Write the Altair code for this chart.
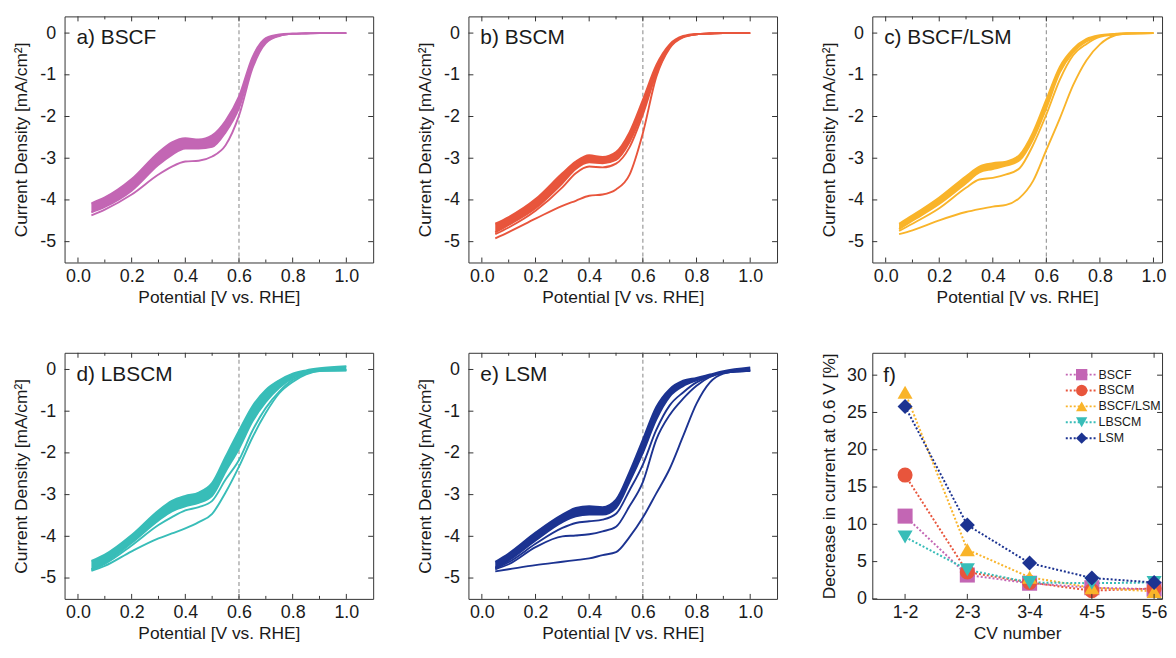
import altair as alt
import pandas as pd

FONT = "Liberation Sans"
FRAME = "#333333"
TXT = "#1a1a1a"

# ---------------- data ----------------
E = [0.05, 0.1, 0.2, 0.3, 0.35, 0.4, 0.45, 0.5, 0.55, 0.6, 0.65, 0.7, 0.75, 0.8, 0.85, 0.9, 1.0]

# a) BSCF
BSCF_TOP    = [-4.08, -3.94, -3.50, -2.86, -2.62, -2.52, -2.55, -2.45, -2.10, -1.52, -0.58, -0.12, -0.03, -0.01, 0.0, 0.0, 0.0]
BSCF_BOTTOM = [-4.30, -4.17, -3.78, -3.16, -2.92, -2.77, -2.77, -2.73, -2.38, -1.80, -0.78, -0.22, -0.06, -0.02, -0.01, 0.0, 0.0]
BSCF_FIRST  = [-4.37, -4.23, -3.87, -3.39, -3.20, -3.08, -3.06, -2.96, -2.69, -1.98, -0.85, -0.24, -0.07, -0.02, -0.01, 0.0, 0.0]

# b) BSCM
BSCM_TOP    = [-4.57, -4.41, -3.98, -3.36, -3.08, -2.93, -2.97, -2.85, -2.38, -1.60, -0.77, -0.27, -0.07, -0.02, -0.01, 0.0, 0.0]
BSCM_BOTTOM = [-4.78, -4.60, -4.20, -3.60, -3.26, -3.10, -3.12, -3.04, -2.62, -1.88, -0.95, -0.32, -0.09, -0.03, -0.01, 0.0, 0.0]
BSCM_SECOND = [-4.82, -4.66, -4.26, -3.70, -3.36, -3.20, -3.22, -3.13, -2.74, -1.95, -0.98, -0.34, -0.09, -0.03, -0.01, 0.0, 0.0]
BSCM_FIRST  = [-4.92, -4.77, -4.45, -4.14, -4.02, -3.90, -3.87, -3.75, -3.40, -2.40, -1.05, -0.36, -0.10, -0.03, -0.01, 0.0, 0.0]

# c) BSCF/LSM
MIX_TOP    = [-4.57, -4.37, -3.94, -3.43, -3.20, -3.12, -3.08, -2.92, -2.38, -1.59, -0.81, -0.38, -0.14, -0.05, -0.02, 0.0, 0.0]
MIX_BOTTOM = [-4.70, -4.50, -4.10, -3.60, -3.34, -3.26, -3.18, -3.05, -2.55, -1.80, -0.95, -0.46, -0.20, -0.07, -0.03, -0.01, 0.0]
MIX_SECOND = [-4.74, -4.57, -4.20, -3.71, -3.51, -3.47, -3.39, -3.24, -2.69, -1.95, -1.12, -0.53, -0.26, -0.09, -0.04, -0.01, 0.0]
MIX_FIRST  = [-4.82, -4.73, -4.49, -4.29, -4.22, -4.16, -4.12, -3.95, -3.55, -2.80, -2.05, -1.25, -0.65, -0.27, -0.07, -0.02, 0.0]

# d) LBSCM
LB_TOP    = [-4.59, -4.44, -3.97, -3.38, -3.15, -3.03, -2.95, -2.72, -2.09, -1.47, -0.88, -0.49, -0.26, -0.10, -0.02, 0.03, 0.08]
LB_BOTTOM = [-4.79, -4.63, -4.16, -3.62, -3.40, -3.28, -3.20, -3.03, -2.45, -1.90, -1.25, -0.78, -0.44, -0.21, -0.09, -0.02, -0.02]
LB_SECOND = [-4.80, -4.66, -4.22, -3.73, -3.54, -3.38, -3.30, -3.15, -2.64, -2.17, -1.47, -0.92, -0.53, -0.25, -0.10, -0.03, -0.02]
LB_FIRST  = [-4.83, -4.71, -4.36, -4.05, -3.93, -3.81, -3.66, -3.46, -2.95, -2.33, -1.63, -1.04, -0.57, -0.30, -0.12, -0.04, -0.02]

# e) LSM
LSM_TOP    = [-4.61, -4.41, -3.91, -3.48, -3.32, -3.28, -3.30, -3.12, -2.46, -1.68, -0.90, -0.47, -0.27, -0.20, -0.12, -0.04, 0.05]
LSM_BOTTOM = [-4.75, -4.58, -4.10, -3.66, -3.52, -3.48, -3.48, -3.32, -2.70, -2.00, -1.20, -0.65, -0.40, -0.26, -0.15, -0.07, -0.03]
LSM_THIRD  = [-4.77, -4.62, -4.18, -3.80, -3.68, -3.64, -3.60, -3.46, -2.90, -2.28, -1.45, -0.86, -0.55, -0.31, -0.17, -0.08, -0.03]
LSM_SECOND = [-4.79, -4.67, -4.26, -4.00, -3.98, -3.95, -3.88, -3.77, -3.28, -2.70, -1.68, -1.09, -0.70, -0.39, -0.18, -0.08, -0.03]
LSM_FIRST  = [-4.84, -4.79, -4.69, -4.61, -4.57, -4.53, -4.45, -4.38, -4.02, -3.55, -2.97, -2.38, -1.60, -0.82, -0.31, -0.10, 0.0]

# f) decrease in current at 0.6 V
CV = ["1-2", "2-3", "3-4", "4-5", "5-6"]
SERIES = ["BSCF", "BSCM", "BSCF/LSM", "LBSCM", "LSM"]
DEC_BSCF = [11.1, 3.2, 2.1, 1.5, 1.3]
DEC_BSCM = [16.6, 3.6, 2.2, 1.1, 1.4]
DEC_MIX = [27.7, 6.6, 2.9, 1.5, 1.0]
DEC_LB = [8.3, 3.9, 2.2, 2.1, 2.2]
DEC_LSM = [25.8, 9.9, 4.8, 2.8, 2.2]

COLORS = ["#C366B4", "#E8553C", "#F9B42A", "#38BDB8", "#1C3391"]
SHAPES = ["square", "circle", "triangle-up", "triangle-down", "diamond"]
LABELS = ["a) BSCF", "b) BSCM", "c) BSCF/LSM", "d) LBSCM", "e) LSM", "f)"]

VLINE = [0.6]
XT_MAJOR = [0.0, 0.2, 0.4, 0.6, 0.8, 1.0]
XT_MINOR = [0.1, 0.3, 0.5, 0.7, 0.9]
YT_MAJOR = [-5, -4, -3, -2, -1, 0]
X_DOMAIN = [-0.05, 1.1]
X_DOMAIN_CUT = [-0.05, 1.032]   # panel c is cut at the right edge of the figure
Y_DOMAIN = [-5.5, 0.4]
F_YT = [0, 5, 10, 15, 20, 25, 30]
F_DOMAIN = [0, 33]

W, H = 311, 248
WC = 292
FW = 292


def inward_ticks(W_, H_, xenc, yenc, xvals, yvals, xlen, ylen):
    layers = []
    dfx = pd.DataFrame({"v": xvals})
    bx = alt.Chart(dfx).mark_rule(color=FRAME, strokeWidth=1)
    layers.append(bx.encode(x=xenc("v"), y=alt.value(H_), y2=alt.value(H_ - xlen)))
    layers.append(bx.encode(x=xenc("v"), y=alt.value(0), y2=alt.value(xlen)))
    dfy = pd.DataFrame({"v": yvals})
    by = alt.Chart(dfy).mark_rule(color=FRAME, strokeWidth=1)
    layers.append(by.encode(y=yenc("v"), x=alt.value(0), x2=alt.value(ylen)))
    layers.append(by.encode(y=yenc("v"), x=alt.value(W_), x2=alt.value(W_ - ylen)))
    return layers


def cv_panel(label, color, top, bottom, curves, width=W, xdomain=X_DOMAIN):
    xs = alt.Scale(domain=xdomain, nice=False, zero=False)
    ys = alt.Scale(domain=Y_DOMAIN, nice=False, zero=False)
    xaxis = alt.Axis(values=XT_MAJOR, format=".1f", title="Potential [V vs. RHE]")
    yaxis = alt.Axis(values=YT_MAJOR, labelExpr="toString(datum.value)",
                     title="Current Density [mA/cm²]")

    def xenc(f):
        return alt.X(f + ":Q", scale=xs, axis=xaxis)

    def yenc(f):
        return alt.Y(f + ":Q", scale=ys, axis=yaxis)

    band = pd.DataFrame({"E": E, "top": top, "bottom": bottom})
    rows = []
    allc = {"top": top, "bottom": bottom}
    allc.update(curves)
    for name, vals in allc.items():
        for e, j in zip(E, vals):
            rows.append({"curve": name, "E": e, "J": j})
    ldf = pd.DataFrame(rows)

    vline = alt.Chart(pd.DataFrame({"v": VLINE})).mark_rule(
        color="#9a9a9a", strokeDash=[4, 3], strokeWidth=1.2).encode(x=xenc("v"))
    area = alt.Chart(band).mark_area(color=color, interpolate="monotone", opacity=1).encode(
        x=xenc("E"), y=yenc("top"), y2="bottom:Q")
    lines = alt.Chart(ldf).mark_line(color=color, strokeWidth=1.9, interpolate="monotone").encode(
        x=xenc("E"), y=yenc("J"), detail="curve:N", order="E:Q")
    text = alt.Chart(pd.DataFrame({"t": [label]})).mark_text(
        align="left", baseline="middle", fontSize=21, font=FONT, color=TXT).encode(
        x=alt.value(12), y=alt.value(22), text="t:N")

    ticks = inward_ticks(width, H, xenc, yenc, XT_MAJOR, YT_MAJOR, 5, 5)
    minor = alt.Chart(pd.DataFrame({"v": XT_MINOR})).mark_rule(color=FRAME, strokeWidth=1)
    ticks.append(minor.encode(x=xenc("v"), y=alt.value(H), y2=alt.value(H - 3)))
    ticks.append(minor.encode(x=xenc("v"), y=alt.value(0), y2=alt.value(3)))

    return alt.layer(vline, area, lines, *ticks, text).properties(width=width, height=H)


pa = cv_panel(LABELS[0], COLORS[0], BSCF_TOP, BSCF_BOTTOM, {"first": BSCF_FIRST})
pb = cv_panel(LABELS[1], COLORS[1], BSCM_TOP, BSCM_BOTTOM, {"second": BSCM_SECOND, "first": BSCM_FIRST})
pc = cv_panel(LABELS[2], COLORS[2], MIX_TOP, MIX_BOTTOM, {"second": MIX_SECOND, "first": MIX_FIRST},
              width=WC, xdomain=X_DOMAIN_CUT)
pd_ = cv_panel(LABELS[3], COLORS[3], LB_TOP, LB_BOTTOM, {"second": LB_SECOND, "first": LB_FIRST})
pe = cv_panel(LABELS[4], COLORS[4], LSM_TOP, LSM_BOTTOM,
              {"third": LSM_THIRD, "second": LSM_SECOND, "first": LSM_FIRST})

# ---------- panel f ----------
rows = []
for s, vals in zip(SERIES, [DEC_BSCF, DEC_BSCM, DEC_MIX, DEC_LB, DEC_LSM]):
    for c, v in zip(CV, vals):
        rows.append({"series": s, "cv": c, "val": v})
fdf = pd.DataFrame(rows)

fxs = alt.Scale(type="point", domain=CV, padding=0.327, align=0.805)
fys = alt.Scale(domain=F_DOMAIN, nice=False, zero=False)
fxaxis = alt.Axis(title="CV number", labelAngle=0)
fyaxis = alt.Axis(values=F_YT, title="Decrease in current at 0.6 V [%]", labelPadding=6)
col_scale = alt.Scale(domain=SERIES, range=COLORS)
shp_scale = alt.Scale(domain=SERIES, range=SHAPES)


def fx(f):
    return alt.X(f + ":N", scale=fxs, axis=fxaxis, sort=CV)


def fy(f):
    return alt.Y(f + ":Q", scale=fys, axis=fyaxis)


flines = alt.Chart(fdf).mark_line(strokeDash=[2, 2], strokeWidth=2).encode(
    x=fx("cv"), y=fy("val"),
    stroke=alt.Stroke("series:N", scale=col_scale, legend=None),
    detail="series:N")
fpoints = alt.Chart(fdf).mark_point(filled=True, size=230, opacity=1).encode(
    x=fx("cv"), y=fy("val"),
    color=alt.Color("series:N", scale=col_scale, legend=None),
    shape=alt.Shape("series:N", scale=shp_scale, legend=None))
ftext = alt.Chart(pd.DataFrame({"t": [LABELS[5]]})).mark_text(
    align="left", baseline="middle", fontSize=21, font=FONT, color=TXT).encode(
    x=alt.value(11), y=alt.value(23), text="t:N")
fticks = inward_ticks(FW, H, fx, fy, CV, F_YT, 5, 5)
f_main = alt.layer(flines, fpoints, *fticks, ftext)

# in-plot legend (dotted line + symbol + label per series)
ldf = pd.DataFrame({"series": SERIES})
leg_y = alt.Y("series:N", scale=alt.Scale(type="point", domain=SERIES, range=[22, 86], padding=0),
              axis=None, sort=SERIES)
leg_line = alt.Chart(ldf).mark_rule(strokeDash=[2, 2], strokeWidth=2).encode(
    y=leg_y, x=alt.value(195), x2=alt.value(227),
    stroke=alt.Stroke("series:N", scale=col_scale, legend=None))
leg_sym = alt.Chart(ldf).mark_point(filled=True, size=130, opacity=1).encode(
    y=leg_y, x=alt.value(211),
    color=alt.Color("series:N", scale=col_scale, legend=None),
    shape=alt.Shape("series:N", scale=shp_scale, legend=None))
leg_txt = alt.Chart(ldf).mark_text(align="left", baseline="middle", fontSize=12.5,
                                   font=FONT, color=TXT).encode(
    y=leg_y, x=alt.value(228), text="series:N")
f_leg = alt.layer(leg_line, leg_sym, leg_txt)

pf = alt.layer(f_main, f_leg).resolve_scale(y="independent").properties(width=FW, height=H)

row1 = alt.hconcat(pa, pb, pc, spacing=42)
row2 = alt.hconcat(pd_, pe, pf, spacing=42)

chart = alt.vconcat(row1, row2, spacing=45).properties(
    padding={"left": 4, "top": 4, "right": 0, "bottom": 0},
    background="white",
).configure_view(
    stroke=FRAME, strokeWidth=1
).configure_axis(
    labelFont=FONT, titleFont=FONT, labelFontSize=18, titleFontSize=17.5,
    titleFontWeight="normal", labelColor=TXT, titleColor=TXT,
    ticks=False, domain=False, grid=False
).configure_axisX(
    labelPadding=5, titlePadding=3
).configure_axisY(
    labelPadding=9, titlePadding=9, minExtent=25, maxExtent=25
)

chart.save("out.html", embed_options={"renderer": "svg", "actions": False})
